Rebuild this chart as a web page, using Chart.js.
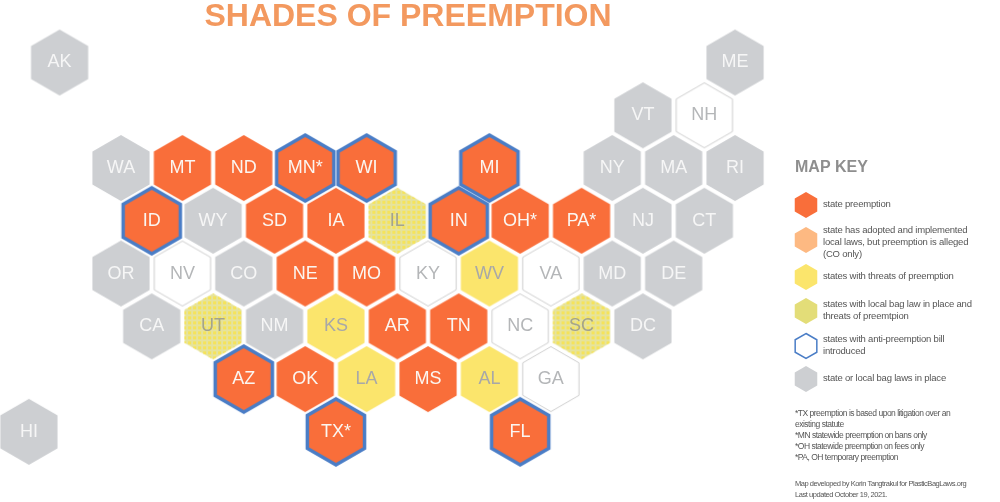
<!DOCTYPE html>
<html>
<head>
<meta charset="utf-8">
<script src="https://cdn.jsdelivr.net/npm/chart.js@4"></script>
<style>
  html, body { margin: 0; padding: 0; background: #fff; }
  #wrap { position: relative; width: 1000px; height: 502px; }
</style>
</head>
<body>
<div id="wrap"><canvas id="map" width="1000" height="502"></canvas></div>
<script>
"use strict";

// state tiles, half-column / row position on the hex grid
const statePreemption = ["MT", "ND", "SD", "IA", "NE", "MO", "OH*", "PA*", "AR", "TN", "OK", "MS"];
const statePreemptionCols = [2, 4, 5, 7, 6, 8, 13, 15, 9, 11, 6, 10];
const statePreemptionRows = [0, 0, 1, 1, 2, 2, 1, 1, 3, 3, 4, 4];

const withAntiBill = ["MN*", "WI", "MI", "ID", "IN", "AZ", "TX*", "FL"];
const withAntiBillCols = [6, 8, 12, 1, 11, 4, 7, 13];
const withAntiBillRows = [0, 0, 0, 1, 1, 4, 5, 5];

const threats = ["WV", "KS", "LA", "AL"];
const threatsCols = [12, 7, 8, 12];
const threatsRows = [2, 3, 4, 4];

const lawAndThreats = ["IL", "UT", "SC"];
const lawAndThreatsCols = [9, 3, 15];
const lawAndThreatsRows = [1, 3, 3];

const noLaw = ["NH", "NV", "KY", "VA", "NC", "GA"];
const noLawCols = [19, 2, 10, 14, 13, 14];
const noLawRows = [-1, 2, 2, 2, 3, 4];

const localLaws = ["AK", "HI", "ME", "VT", "NY", "MA", "RI", "WA", "WY", "NJ", "CT", "OR", "CO", "MD", "DE", "CA", "NM", "DC"];
const localLawsCols = [-2, -3, 20, 17, 16, 18, 20, 0, 3, 17, 19, 0, 4, 16, 18, 1, 5, 17];
const localLawsRows = [-2, 5, -2, -1, 0, 0, 0, 0, 1, 1, 1, 2, 2, 2, 2, 3, 3, 3];

const titleText = "SHADES OF PREEMPTION";
const keyTitle = "MAP KEY";
const keyLabels = [
    ["state preemption"],
    ["state has adopted and implemented", "local laws, but preemption is alleged", "(CO only)"],
    ["states with threats of preemption"],
    ["states with local bag law in place and", "threats of preemtpion"],
    ["states with anti-preemption bill", "introduced"],
    ["state or local bag laws in place"],
];
const notes = [
    "*TX preemption is based upon litigation over an",
    "existing statute",
    "*MN statewide preemption on bans only",
    "*OH statewide preemption on fees only",
    "*PA, OH temporary preemption",
];
const credits = [
    "Map developed by Korin Tangtrakul for PlasticBagLaws.org",
    "Last updated October 19, 2021.",
];

const ORANGE = "#F96E3A";
const PEACH = "#FDB982";
const YELLOW = "#FBE56C";
const OLIVE = "#E3DD78";
const GRAY = "#CDCFD2";
const BLUE = "#4A7DC6";
const FONT = '"Liberation Sans", Arial, sans-serif';

function hexPath(ctx, cx, cy, r) {
    ctx.beginPath();
    for (let i = 0; i < 6; i++) {
        const a = Math.PI / 3 * i - Math.PI / 2;
        const px = cx + r * Math.cos(a);
        const py = cy + r * Math.sin(a);
        if (i === 0) ctx.moveTo(px, py);
        else ctx.lineTo(px, py);
    }
    ctx.closePath();
}

// ポイント用の六角形をcanvasに描く
function hexImage(o) {
    const size = 74;
    const c = document.createElement("canvas");
    c.width = size;
    c.height = size;
    const ctx = c.getContext("2d");
    const mid = size / 2;
    hexPath(ctx, mid, mid, o.r);
    ctx.fillStyle = o.fill;
    ctx.fill();
    if (o.hatch) {
        ctx.save();
        hexPath(ctx, mid, mid, o.r);
        ctx.clip();
        ctx.fillStyle = o.hatch;
        for (let y = 2; y < size; y += 5) {
            for (let x = 2; x < size; x += 5) {
                ctx.fillRect(x, y, 3, 3);
            }
        }
        ctx.restore();
    }
    if (o.stroke) {
        hexPath(ctx, mid, mid, o.strokeR || o.r);
        ctx.strokeStyle = o.stroke;
        ctx.lineWidth = o.lineWidth;
        ctx.stroke();
    }
    return c;
}

function tiles(names, cols, rows) {
    return names.map((name, i) => ({ x: cols[i], y: rows[i], name: name }));
}

const lightText = "#FBF6F1";
const grayText = "#A8A8A8";

const datasets = [
    { data: tiles(localLaws, localLawsCols, localLawsRows), img: { r: 33, fill: GRAY }, labelColor: "#F6F6F6" },
    { data: tiles(noLaw, noLawCols, noLawRows), img: { r: 32.5, fill: "#FFFFFF", stroke: "#CFCFCF", lineWidth: 1 }, labelColor: "#B4B6B8" },
    { data: tiles(statePreemption, statePreemptionCols, statePreemptionRows), img: { r: 33, fill: ORANGE }, labelColor: lightText },
    { data: tiles(withAntiBill, withAntiBillCols, withAntiBillRows), img: { r: 33, fill: ORANGE, stroke: BLUE, strokeR: 33, lineWidth: 3.5 }, labelColor: lightText },
    { data: tiles(threats, threatsCols, threatsRows), img: { r: 33, fill: YELLOW }, labelColor: grayText },
    { data: tiles(lawAndThreats, lawAndThreatsCols, lawAndThreatsRows), img: { r: 33, fill: "#E6E39C", hatch: "#F5E35A" }, labelColor: "#A3A38C" },
].map(d => ({
    data: d.data,
    labelColor: d.labelColor,
    pointStyle: hexImage(d.img),
    pointRadius: 33,
    pointHoverRadius: 33,
    showLine: false,
    clip: false,
}));

// 州ラベル、タイトル、凡例
const textPlugin = {
    id: "mapText",
    afterDatasetsDraw(chart) {
        const ctx = chart.ctx;
        const xs = chart.scales.x;
        const ys = chart.scales.y;
        ctx.save();
        ctx.textBaseline = "middle";

        ctx.textAlign = "center";
        ctx.font = "18px " + FONT;
        chart.data.datasets.forEach(ds => {
            ctx.fillStyle = ds.labelColor;
            ds.data.forEach(p => ctx.fillText(p.name, xs.getPixelForValue(p.x), ys.getPixelForValue(p.y)));
        });

        ctx.font = "bold 32px " + FONT;
        ctx.fillStyle = "#F3995F";
        ctx.fillText(titleText, 408, 17.5);

        ctx.textAlign = "left";
        ctx.font = "bold 16px " + FONT;
        ctx.fillStyle = "#8E8E8E";
        ctx.fillText(keyTitle, 795, 168);

        const swatches = [
            { r: 13, fill: ORANGE },
            { r: 13, fill: PEACH },
            { r: 13, fill: YELLOW },
            { r: 13, fill: OLIVE },
            { r: 12.5, fill: "#FFFFFF", stroke: BLUE, lineWidth: 1.5 },
            { r: 13, fill: GRAY },
        ];
        const swatchY = [205, 240, 277, 311, 346, 379];
        const textY = [204, 230, 276, 304, 339, 378];
        swatches.forEach((s, i) => {
            hexPath(ctx, 806, swatchY[i], s.r);
            ctx.fillStyle = s.fill;
            ctx.fill();
            if (s.stroke) {
                ctx.strokeStyle = s.stroke;
                ctx.lineWidth = s.lineWidth;
                ctx.stroke();
            }
        });

        ctx.font = "9.5px " + FONT;
        ctx.letterSpacing = "-0.2px";
        ctx.fillStyle = "#555555";
        keyLabels.forEach((lines, i) => {
            lines.forEach((line, j) => ctx.fillText(line, 823, textY[i] + j * 12));
        });

        ctx.font = "8.5px " + FONT;
        ctx.letterSpacing = "-0.5px";
        notes.forEach((line, i) => ctx.fillText(line, 795, 414 + i * 11));

        ctx.font = "7.5px " + FONT;
        ctx.letterSpacing = "-0.45px";
        credits.forEach((line, i) => ctx.fillText(line, 795, 484 + i * 11));
        ctx.restore();
    }
};

new Chart(document.getElementById("map"), {
    type: "scatter",
    data: { datasets: datasets },
    plugins: [textPlugin],
    options: {
        responsive: false,
        animation: false,
        layout: { padding: 0, autoPadding: false },
        plugins: { legend: { display: false }, tooltip: { enabled: false } },
        scales: {
            x: { type: "linear", display: false, min: -3.941, max: 28.63 },
            y: { type: "linear", display: false, reverse: true, min: -3.185, max: 6.33 },
        },
    },
});
</script>
</body>
</html>
